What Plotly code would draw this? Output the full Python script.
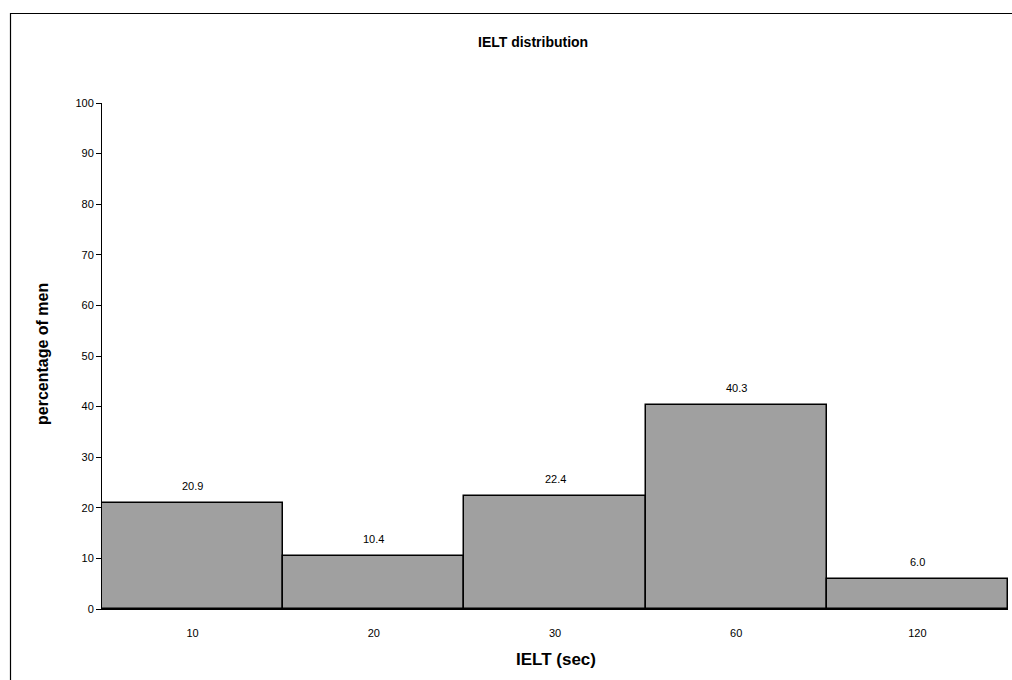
import plotly.graph_objects as go

categories = ["10", "20", "30", "60", "120"]
values = [20.9, 10.4, 22.4, 40.3, 6.0]
value_labels = ["20.9", "10.4", "22.4", "40.3", "6.0"]
y_ticks = [0, 10, 20, 30, 40, 50, 60, 70, 80, 90, 100]

L, R, T, B = 102, 4, 103, 71
W, H = 1012, 680
pw, ph = W - L - R, H - T - B

def px(x):
    return (x - L) / pw

def py(y):
    return (H - B - y) / ph

fig = go.Figure()
fig.add_trace(go.Bar(
    x=categories, y=values,
    marker=dict(color="#A0A0A0", line=dict(color="black", width=1.5)),
    cliponaxis=False,
))

annotations = [
    dict(x=i, y=v, xref="x", yref="y", text=t, showarrow=False,
         xanchor="center", yanchor="middle", yshift=17,
         font=dict(family="Arial", size=11, color="black"))
    for i, (v, t) in enumerate(zip(values, value_labels))
]
annotations += [
    dict(text="<b>IELT distribution</b>", xref="paper", yref="paper",
         x=px(533), y=py(42), xanchor="center", yanchor="middle",
         showarrow=False, font=dict(size=14, family="Arial", color="black")),
    dict(text="<b>IELT (sec)</b>", xref="paper", yref="paper",
         x=px(556), y=py(659), xanchor="center", yanchor="middle",
         showarrow=False, font=dict(size=17, family="Arial", color="black")),
    dict(text="<b>percentage of men</b>", xref="paper", yref="paper",
         x=px(42), y=py(354), xanchor="center", yanchor="middle",
         showarrow=False, textangle=-90,
         font=dict(size=16, family="Arial", color="black")),
]

fig.update_layout(
    width=W, height=H,
    margin=dict(l=L, r=R, t=T, b=B),
    paper_bgcolor="white", plot_bgcolor="white",
    bargap=0, showlegend=False,
    font=dict(family="Arial", size=11, color="black"),
    xaxis=dict(type="category", range=[-0.5, len(categories) - 0.5], autorange=False,
               showgrid=False, showline=True, linecolor="black",
               linewidth=1, ticks="", tickfont=dict(size=11), ticklabelstandoff=14,
               tickangle=0),
    yaxis=dict(range=[0, 100], tickvals=y_ticks, showgrid=False, showline=True,
               linecolor="black", linewidth=1, ticks="outside", ticklen=5,
               tickcolor="black", tickfont=dict(size=11), zeroline=False),
    shapes=[dict(type="rect", xref="paper", yref="paper",
                 x0=px(10.5), x1=px(1030), y0=py(700), y1=py(13.5),
                 line=dict(color="black", width=1.2), fillcolor="rgba(0,0,0,0)", layer="below")],
    annotations=annotations,
)

fig.write_html("out.html")
